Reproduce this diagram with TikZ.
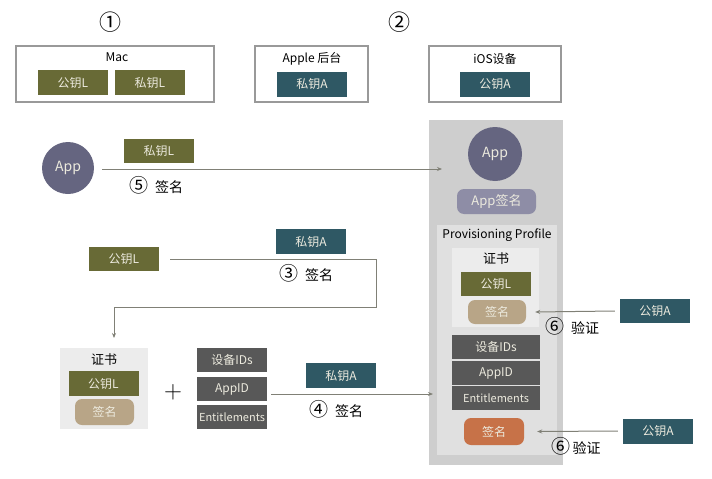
\documentclass[tikz,border=0pt]{standalone}
\usepackage{fontspec}
\setmainfont{Noto Sans CJK SC}
\usetikzlibrary{arrows.meta}

\definecolor{keyolive}{RGB}{104,106,54}
\definecolor{keyteal}{RGB}{47,88,100}
\definecolor{appblue}{RGB}{101,101,128}
\definecolor{appsig}{RGB}{142,141,166}
\definecolor{sigtan}{RGB}{184,165,135}
\definecolor{sigorange}{RGB}{199,114,72}
\definecolor{infogray}{RGB}{88,88,88}
\definecolor{panelgray}{RGB}{206,206,206}
\definecolor{profgray}{RGB}{224,224,224}
\definecolor{certgray}{RGB}{236,236,236}
\definecolor{linegray}{RGB}{128,128,118}
\definecolor{txtlight}{RGB}{236,234,222}

\newcommand{\stepno}[1]{{\fontsize{19}{19}\selectfont #1}}

\begin{document}
\begin{tikzpicture}[x=1pt,y=1pt,yscale=-1,
	font=\fontsize{12}{14}\selectfont,
	frame/.style={draw=black!40,line width=1.2pt,inner sep=0pt},
	keybox/.style={inner sep=0pt,minimum width=70pt,minimum height=25pt,text=txtlight},
	pubL/.style={keybox,fill=keyolive},
	privL/.style={keybox,fill=keyolive},
	privA/.style={keybox,fill=keyteal},
	pubA/.style={keybox,fill=keyteal},
	infobox/.style={inner sep=0pt,minimum height=24pt,fill=infogray,text=txtlight},
	sigbox/.style={rounded corners=7pt,inner sep=0pt,minimum width=59pt,minimum height=25pt,text=txtlight},
	numlbl/.style={font=\fontsize{22}{24}\selectfont,inner sep=0.75pt},
	stepnote/.style={inner sep=0.75pt,font=\fontsize{14}{16}\selectfont},
	conn/.style={draw=linegray,line width=1pt,-{Stealth[length=5pt,width=4pt]}}]
\useasboundingbox (0,0) rectangle (712,479);

% Step numbers
\node[numlbl] (n1) at (110,22) {①};
\node[numlbl] (n2) at (399,22) {②};

% Mac
\node[frame,minimum width=198pt,minimum height=56pt] (mac) at (115,74) {};
\node[inner sep=0.75pt] (maclbl) at (117,57) {Mac};
\node[pubL] (macpub) at (73,82.5) {公钥L};
\node[privL] (macpriv) at (150,82.5) {私钥L};

% Apple backend
\node[frame,minimum width=113pt,minimum height=56pt] (apple) at (311.5,74) {};
\node[inner sep=0.75pt] (applelbl) at (312,59) {Apple 后台};
\node[privA] (applepriv) at (312,84) {私钥A};

% iOS device
\node[frame,minimum width=132pt,minimum height=56pt] (ios) at (495,74) {};
\node[inner sep=0.75pt] (ioslbl) at (495,59) {iOS设备};
\node[pubA] (iospub) at (495,84) {公钥A};

% Installed package on the device
\node[fill=panelgray,minimum width=134pt,minimum height=345pt,inner sep=0pt] (pkg) at (496,292.5) {};
\node[circle,fill=appblue,minimum size=54pt,inner sep=0pt,text=txtlight,font=\fontsize{14}{16}\selectfont] (pkgapp) at (495,154) {App};
\node[sigbox,fill=appsig,minimum width=79pt,font=\fontsize{13}{15}\selectfont] (pkgsig) at (496.5,201.5) {App签名};
\node[fill=profgray,minimum width=120pt,minimum height=230pt,inner sep=0pt] (prof) at (497,340) {};
\node[inner sep=0.75pt] (proflbl) at (497,235) {Provisioning Profile};
\node[fill=certgray,minimum width=87pt,minimum height=79pt,inner sep=0pt] (pcert) at (495.5,287.5) {};
\node[inner sep=0.75pt,font=\fontsize{13}{15}\selectfont] (pcertlbl) at (496,259) {证书};
\node[pubL,minimum height=24pt] (pcertpub) at (496,284) {公钥L};
\node[sigbox,fill=sigtan,minimum width=58pt,minimum height=24pt] (pcertsig) at (497,312) {签名};
\node[infobox,minimum width=88pt] (pdev) at (496,347) {设备IDs};
\node[infobox,minimum width=88pt] (pappid) at (496,373) {AppID};
\node[infobox,minimum width=88pt,font=\fontsize{11}{13}\selectfont] (pent) at (496,398) {Entitlements};
\node[sigbox,fill=sigorange,minimum width=60pt,minimum height=27pt] (psig) at (494,431.5) {签名};

% Step 5: sign the App
\node[circle,fill=appblue,minimum size=52pt,inner sep=0pt,text=txtlight,font=\fontsize{14}{16}\selectfont] (app) at (68,168) {App};
\node[privL,minimum height=24pt] (sign5key) at (159,151) {私钥L};
\coordinate (appin) at (442,169);
\draw[conn] (102,169) -- (appin);
\node[stepnote] (note5) at (156,185) {\stepno{⑤}\enspace 签名};

% Step 3: sign the certificate
\node[pubL,minimum height=24pt] (reqpub) at (124,259) {公钥L};
\node[privA] (sign3key) at (311,241.5) {私钥A};
\coordinate (turn3) at (376,307);
\coordinate (certin) at (114,338);
\draw[conn] ([xshift=11pt]reqpub.east) -| (turn3) -| (certin);
\node[stepnote] (note3) at (306,273) {\stepno{③}\enspace 签名};

% Certificate
\node[fill=certgray,minimum width=88pt,minimum height=81pt,inner sep=0pt] (cert) at (104,388.5) {};
\node[inner sep=0.75pt,font=\fontsize{13}{15}\selectfont] (certlbl) at (104,360) {证书};
\node[pubL] (certpub) at (103.5,383.5) {公钥L};
\node[sigbox,fill=sigtan,minimum height=26pt] (certsig) at (104.5,412) {签名};
\node[font=\fontsize{26}{26}\selectfont,inner sep=0pt] (plus) at (173,392) {$+$};

% Device IDs, AppID, Entitlements
\node[infobox,minimum width=70pt] (devids) at (232,360) {设备IDs};
\node[infobox,minimum width=70pt] (appid) at (232,389) {AppID};
\node[infobox,minimum width=70pt,font=\fontsize{11}{13}\selectfont] (ents) at (232,417) {Entitlements};

% Step 4: sign the profile
\node[privA] (sign4key) at (341,375.5) {私钥A};
\coordinate (profin) at (433,394);
\draw[conn] ([xshift=4pt]appid.east |- 0,394) -- (profin);
\node[stepnote] (note4) at (336,409) {\stepno{④}\enspace 签名};

% Step 6: verify
\node[pubA,minimum height=24pt] (verkey1) at (655,311) {公钥A};
\draw[conn] ([xshift=-5pt]verkey1.west) -- ([xshift=9pt]pcertsig.east);
\node[stepnote] (note6a) at (572,326) {\stepno{⑥}\enspace 验证};
\node[pubA] (verkey2) at (658,431) {公钥A};
\draw[conn] ([xshift=-5pt]verkey2.west) -- ([xshift=13pt]psig.east);
\node[stepnote] (note6b) at (576,446) {\stepno{⑥}\,验证};

\end{tikzpicture}
\end{document}
